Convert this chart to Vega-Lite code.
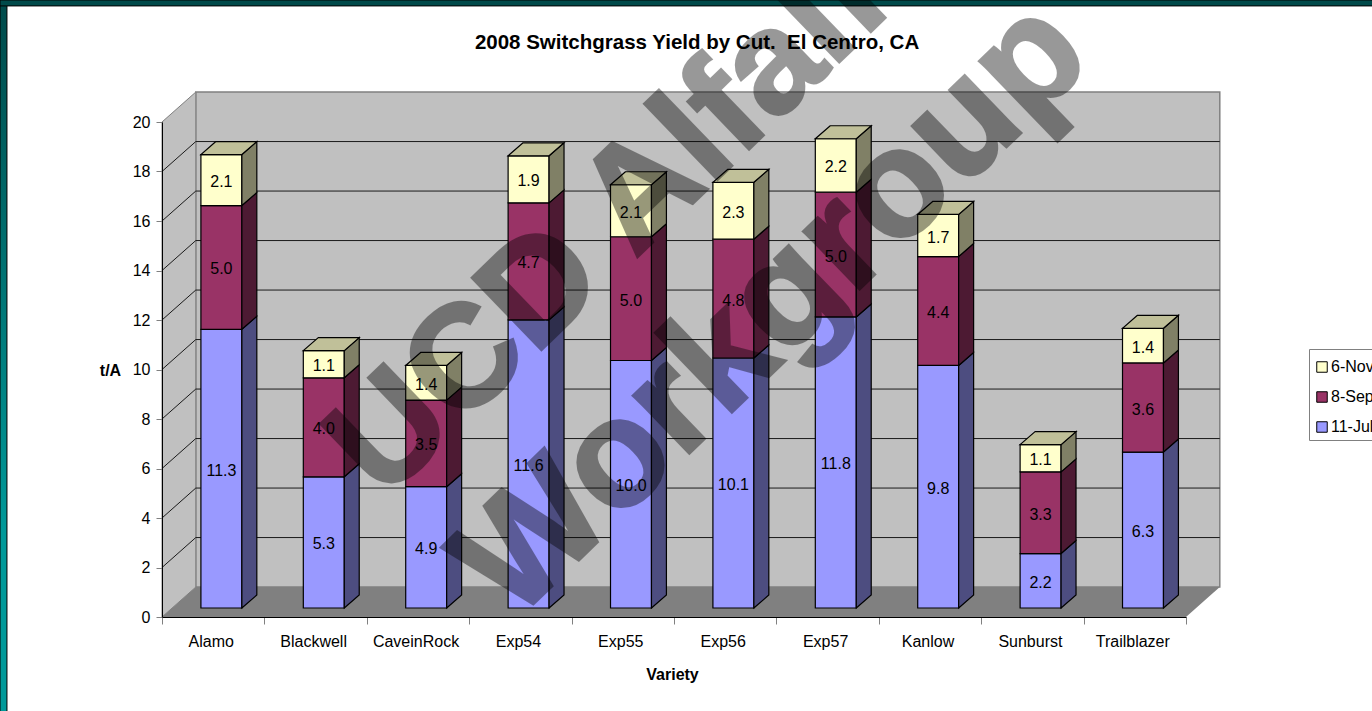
{
"$schema":"https://vega.github.io/schema/vega-lite/v6.json",
"width":1024,"height":495,
"autosize":{"type":"none"},
"padding":{"left":162,"top":122,"right":186,"bottom":94},
"background":"white",
"config":{"view":{"stroke":null},"font":"Liberation Sans"},
"data":{"values":[
{"variety":"Alamo","cut":"11-Jul","yield":11.26},{"variety":"Alamo","cut":"8-Sep","yield":5.0},{"variety":"Alamo","cut":"6-Nov","yield":2.06},
{"variety":"Blackwell","cut":"11-Jul","yield":5.3},{"variety":"Blackwell","cut":"8-Sep","yield":4.0},{"variety":"Blackwell","cut":"6-Nov","yield":1.1},
{"variety":"CaveinRock","cut":"11-Jul","yield":4.9},{"variety":"CaveinRock","cut":"8-Sep","yield":3.5},{"variety":"CaveinRock","cut":"6-Nov","yield":1.4},
{"variety":"Exp54","cut":"11-Jul","yield":11.64},{"variety":"Exp54","cut":"8-Sep","yield":4.73},{"variety":"Exp54","cut":"6-Nov","yield":1.9},
{"variety":"Exp55","cut":"11-Jul","yield":10.0},{"variety":"Exp55","cut":"8-Sep","yield":5.0},{"variety":"Exp55","cut":"6-Nov","yield":2.1},
{"variety":"Exp56","cut":"11-Jul","yield":10.1},{"variety":"Exp56","cut":"8-Sep","yield":4.8},{"variety":"Exp56","cut":"6-Nov","yield":2.3},
{"variety":"Exp57","cut":"11-Jul","yield":11.76},{"variety":"Exp57","cut":"8-Sep","yield":5.04},{"variety":"Exp57","cut":"6-Nov","yield":2.16},
{"variety":"Kanlow","cut":"11-Jul","yield":9.8},{"variety":"Kanlow","cut":"8-Sep","yield":4.4},{"variety":"Kanlow","cut":"6-Nov","yield":1.7},
{"variety":"Sunburst","cut":"11-Jul","yield":2.2},{"variety":"Sunburst","cut":"8-Sep","yield":3.3},{"variety":"Sunburst","cut":"6-Nov","yield":1.1},
{"variety":"Trailblazer","cut":"11-Jul","yield":6.3},{"variety":"Trailblazer","cut":"8-Sep","yield":3.6},{"variety":"Trailblazer","cut":"6-Nov","yield":1.4}
]},
"transform":[
{"calculate":"indexof(['11-Jul','8-Sep','6-Nov'],datum.cut)","as":"ord"},
{"stack":"yield","groupby":["variety"],"sort":[{"field":"ord","order":"ascending"}],"as":["y0","y1"]},
{"calculate":"indexof(['Alamo','Blackwell','CaveinRock','Exp54','Exp55','Exp56','Exp57','Kanlow','Sunburst','Trailblazer'],datum.variety)","as":"i"},
{"calculate":"datum.i+0.38","as":"xl"},
{"calculate":"datum.i+0.78","as":"xr"},
{"calculate":"datum.y0+0.364","as":"yf0"},
{"calculate":"datum.y1+0.364","as":"yf1"},
{"calculate":"datum.variety+datum.cut","as":"key"},
{"calculate":"{'11-Jul':'#4d4d80','8-Sep':'#4d1a33','6-Nov':'#808066'}[datum.cut]","as":"sideColor"}
],
"layer":[
{"data":{"values":[{"a":-1.582,"b":-1.514,"c":-3.84,"d":24.93}]},
 "mark":{"type":"rect","stroke":"black","strokeWidth":1,"fill":{"x1":0,"y1":0,"x2":0,"y2":1,"gradient":"linear","stops":[{"offset":0,"color":"#004a4a"},{"offset":0.75,"color":"#009999"},{"offset":1,"color":"#009999"}]}},
 "encoding":{"x":{"field":"a","type":"quantitative","scale":{"domain":[0,10],"nice":false,"zero":false},
   "axis":{"values":[0,1,2,3,4,5,6,7,8,9,10],"labelExpr":"['Alamo','Blackwell','CaveinRock','Exp54','Exp55','Exp56','Exp57','Kanlow','Sunburst','Trailblazer',''][datum.value]","labelOffset":48.7,"labelFontSize":16,"labelColor":"black","labelPadding":9,"labelAngle":0,"labelFlush":false,"labelOverlap":false,"labelBound":false,"tickColor":"#808080","tickSize":7,"domainColor":"black","grid":false,"zindex":1,"title":"Variety","titleFontSize":16,"titleFontWeight":"bold","titleColor":"black","titleX":510,"titleY":57,"titleAlign":"center","titleBaseline":"middle"}},
  "x2":{"field":"b"},
  "y":{"field":"c","type":"quantitative","scale":{"domain":[0,20],"nice":false,"zero":false},
   "axis":{"values":[0,2,4,6,8,10,12,14,16,18,20],"labelFontSize":16,"labelColor":"black","labelPadding":6,"tickColor":"#808080","tickSize":6,"domainColor":"black","grid":false,"zindex":1,"title":"t/A","titleAngle":0,"titleFontSize":16,"titleFontWeight":"bold","titleColor":"black","titleX":-52,"titleY":248,"titleAlign":"center","titleBaseline":"middle"}},
  "y2":{"field":"d"}}},
{"data":{"values":[{"a":-1.582,"b":11.9,"c":24.69,"d":24.93}]},
 "mark":{"type":"rect","fill":"#004a4a","stroke":"black","strokeWidth":1},
 "encoding":{"x":{"field":"a","type":"quantitative"},"x2":{"field":"b"},"y":{"field":"c","type":"quantitative"},"y2":{"field":"d"}}},
{"data":{"values":[{"a":0.33,"b":10.33,"c":1.21,"d":21.21}]},
 "mark":{"type":"rect","fill":"#c0c0c0","stroke":"#808080","strokeWidth":1.5},
 "encoding":{"x":{"field":"a","type":"quantitative"},"x2":{"field":"b"},"y":{"field":"c","type":"quantitative"},"y2":{"field":"d"}}},
{"data":{"values":[{"a":0,"c":0,"d":20},{"a":0.33,"c":1.21,"d":21.21}]},
 "mark":{"type":"area","orient":"vertical","fill":"#c0c0c0","stroke":"#808080","strokeWidth":1},
 "encoding":{"x":{"field":"a","type":"quantitative"},"y":{"field":"c","type":"quantitative"},"y2":{"field":"d"}}},
{"data":{"values":[{"c":0,"a":0,"b":10},{"c":1.21,"a":0.33,"b":10.33}]},
 "mark":{"type":"area","orient":"horizontal","fill":"#808080"},
 "encoding":{"y":{"field":"c","type":"quantitative"},"x":{"field":"a","type":"quantitative"},"x2":{"field":"b"}}},
{"data":{"values":[{"v":2},{"v":4},{"v":6},{"v":8},{"v":10},{"v":12},{"v":14},{"v":16},{"v":18}]},
 "transform":[{"calculate":"datum.v+1.21","as":"w"},{"calculate":"0.33","as":"a"},{"calculate":"10.33","as":"b"}],
 "mark":{"type":"rule","color":"#1a1a1a","strokeWidth":1},
 "encoding":{"x":{"field":"a","type":"quantitative"},"x2":{"field":"b"},"y":{"field":"w","type":"quantitative"}}},
{"data":{"values":[{"v":2},{"v":4},{"v":6},{"v":8},{"v":10},{"v":12},{"v":14},{"v":16},{"v":18}]},
 "transform":[{"calculate":"datum.v+1.21","as":"w"},{"calculate":"0","as":"a"},{"calculate":"0.33","as":"b"}],
 "mark":{"type":"rule","color":"#1a1a1a","strokeWidth":1},
 "encoding":{"x":{"field":"a","type":"quantitative"},"x2":{"field":"b"},"y":{"field":"v","type":"quantitative"},"y2":{"field":"w"}}},
{"mark":{"type":"rect","stroke":"black","strokeWidth":1.2},
 "encoding":{"x":{"field":"xl","type":"quantitative"},"x2":{"field":"xr"},"y":{"field":"yf0","type":"quantitative"},"y2":{"field":"yf1"},
  "fill":{"field":"cut","type":"nominal","scale":{"domain":["6-Nov","8-Sep","11-Jul"],"range":["#ffffcc","#993366","#9999ff"]},
   "legend":{"orient":"none","legendX":1147,"legendY":227,"title":" ","titleFontSize":1,"titlePadding":4,"symbolType":"square","symbolSize":110,"symbolStrokeColor":"black","symbolStrokeWidth":1,"labelFontSize":16,"labelColor":"black","labelOffset":1,"labelLimit":300,"rowPadding":14,"strokeColor":"#808080","fillColor":"white","padding":5}}}},
{"transform":[{"calculate":"[0,1]","as":"edge"},{"flatten":["edge"]},{"calculate":"datum.xr+datum.edge*0.146","as":"sx"},{"calculate":"datum.yf0+datum.edge*0.525","as":"sy0"},{"calculate":"datum.yf1+datum.edge*0.525","as":"sy1"}],
 "mark":{"type":"area","orient":"vertical","stroke":"black","strokeWidth":1.2},
 "encoding":{"x":{"field":"sx","type":"quantitative"},"y":{"field":"sy0","type":"quantitative"},"y2":{"field":"sy1"},"detail":{"field":"key"},
  "fill":{"field":"sideColor","type":"nominal","scale":null}}},
{"transform":[{"filter":"datum.cut==='6-Nov'"},{"calculate":"[0,1]","as":"edge"},{"flatten":["edge"]},{"calculate":"datum.xl+datum.edge*0.146","as":"tx0"},{"calculate":"datum.xr+datum.edge*0.146","as":"tx1"},{"calculate":"datum.yf1+datum.edge*0.525","as":"ty"}],
 "mark":{"type":"area","orient":"horizontal","stroke":"black","strokeWidth":1.2,"fill":"#c0c099"},
 "encoding":{"y":{"field":"ty","type":"quantitative"},"x":{"field":"tx0","type":"quantitative"},"x2":{"field":"tx1"},"detail":{"field":"key"}}},
{"data":{"values":[{"t":"2008 Switchgrass Yield by Cut. \u00a0El Centro, CA","a":5.225,"c":23.2}]},
 "mark":{"type":"text","font":"Liberation Sans","fontWeight":"bold","fontSize":20.5,"fill":"black","align":"center","baseline":"middle"},
 "encoding":{"x":{"field":"a","type":"quantitative"},"y":{"field":"c","type":"quantitative"},"text":{"field":"t"}}},
{"data":{"values":[{"t":"UCD Alfalfa","a":4.65,"c":17.05}]},
 "mark":{"type":"text","font":"Liberation Sans","fontWeight":"bold","fontSize":145,"angle":316,"align":"center","baseline":"middle","fill":"black","stroke":"black","strokeWidth":3,"opacity":0.4},
 "encoding":{"x":{"field":"a","type":"quantitative"},"y":{"field":"c","type":"quantitative"},"text":{"field":"t"}}},
{"data":{"values":[{"t":"Workgroup","a":5.96,"c":12.44}]},
 "mark":{"type":"text","font":"Liberation Sans","fontWeight":"bold","fontSize":152,"angle":316,"align":"center","baseline":"middle","fill":"black","stroke":"black","strokeWidth":3,"opacity":0.4},
 "encoding":{"x":{"field":"a","type":"quantitative"},"y":{"field":"c","type":"quantitative"},"text":{"field":"t"}}},
{"transform":[{"calculate":"(datum.xl+datum.xr)/2","as":"cx"},{"calculate":"(datum.yf0+datum.yf1)/2","as":"cy"}],
 "mark":{"type":"text","fontSize":16,"fill":"black","align":"center","baseline":"middle","dy":2},
 "encoding":{"x":{"field":"cx","type":"quantitative"},"y":{"field":"cy","type":"quantitative"},"text":{"field":"yield","type":"quantitative","format":".1f"}}}
]
}
